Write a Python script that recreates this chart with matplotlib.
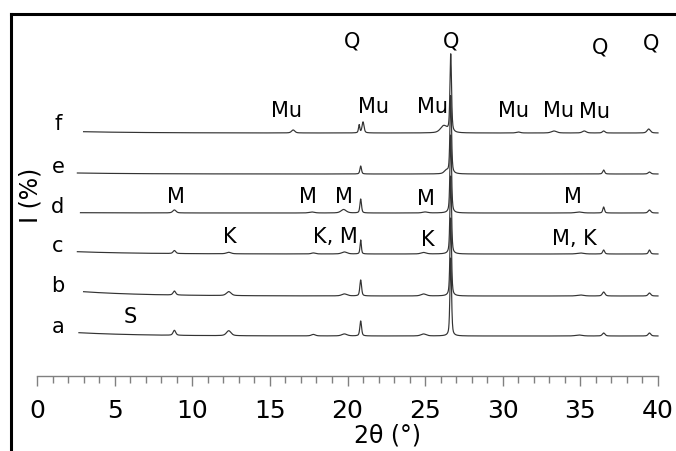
import numpy as np
import matplotlib.pyplot as plt

# diffraction patterns, one trace per sample (offset upward a -> f)
samples = ["a", "b", "c", "d", "e", "f"]
start_2theta = [2.7, 3.0, 2.6, 2.8, 2.6, 3.0]
baseline = [115, 155, 197, 238, 277, 318]      # flat background level
low_angle_rise = [3.3, 4.3, 2.3, 0.3, 1.0, 1.3]  # extra background at the start

# reflections per sample: (2theta, height, fwhm)
peaks = {
    "a": [(8.85, 5, 0.2), (12.35, 5, 0.35), (17.8, 1.5, 0.3), (19.8, 2, 0.4),
          (20.85, 15, 0.13), (24.9, 2, 0.4), (26.65, 78, 0.12), (34.9, 1, 0.5),
          (36.5, 3, 0.2), (39.45, 3, 0.2)],
    "b": [(8.85, 4, 0.2), (12.35, 4, 0.35), (19.8, 2, 0.4), (20.85, 16, 0.13),
          (24.9, 2, 0.4), (26.65, 78, 0.12), (35.0, 1, 0.5), (36.5, 4, 0.2),
          (39.45, 3, 0.2)],
    "c": [(8.85, 3, 0.2), (12.35, 1.5, 0.35), (17.8, 1, 0.3), (19.8, 2, 0.4),
          (20.85, 14, 0.1), (24.9, 1.5, 0.4), (26.65, 78, 0.12), (35.0, 1, 0.5),
          (36.5, 4, 0.15), (39.45, 4, 0.15)],
    "d": [(8.85, 3, 0.25), (17.7, 1, 0.4), (19.75, 3.5, 0.4), (20.85, 14, 0.12),
          (25.0, 1, 0.4), (26.65, 78, 0.12), (34.9, 1, 0.5), (36.5, 6, 0.13),
          (39.45, 3, 0.2)],
    "e": [(20.85, 8, 0.12), (26.35, 3, 0.3), (26.65, 78, 0.12), (36.5, 4, 0.15),
          (39.45, 2, 0.2)],
    "f": [(16.5, 3, 0.25), (20.75, 8, 0.1), (21.0, 11, 0.15), (26.2, 7, 0.5),
          (26.65, 78, 0.12), (31.0, 1, 0.3), (33.3, 2, 0.4), (35.25, 2, 0.3),
          (36.5, 2, 0.2), (39.4, 4, 0.25)],
}

# phase labels: (text, 2theta, height)
phase_labels = [
    ("Q", 20.3, 403), ("Q", 26.67, 403), ("Q", 36.3, 398), ("Q", 39.55, 402),
    ("Mu", 16.1, 334), ("Mu", 21.65, 338), ("Mu", 25.5, 338), ("Mu", 30.7, 334),
    ("Mu", 33.6, 334), ("Mu", 35.9, 333),
    ("M", 8.95, 248), ("M", 17.45, 248), ("M", 19.75, 248), ("M", 25.05, 246),
    ("M", 34.55, 248),
    ("K", 12.4, 208), ("K, M", 19.2, 208), ("K", 25.2, 205), ("M, K", 34.6, 206),
    ("S", 6.0, 128),
]
sample_label_y = [118, 159, 199, 238, 278, 321]


def pattern(x, refl):
    y = np.zeros_like(x)
    for pos, h, w in refl:
        g = np.exp(-4 * np.log(2) * ((x - pos) / w) ** 2)
        l = 1 / (1 + 4 * ((x - pos) / w) ** 2)
        y += h * (0.5 * g + 0.5 * l)
    return y


fig = plt.figure(figsize=(6.76, 4.51), dpi=100)
ax = fig.add_axes([11 / 676, 0, 665 / 676, 437 / 451])

for i, s in enumerate(samples):
    x = np.arange(start_2theta[i], 40.0001, 0.01)
    bg = baseline[i] + low_angle_rise[i] * np.exp(-(x - start_2theta[i]) / 4)
    ax.plot(x, bg + pattern(x, peaks[s]), color="#333333", lw=0.85)
    ax.text(1.35, sample_label_y[i], s, fontsize=15, ha="center", va="baseline")

for txt, xpos, ypos in phase_labels:
    ax.text(xpos, ypos, txt, fontsize=15, ha="center", va="baseline")

ax.set_xlim(-26 / 15.525, 639 / 15.525)
ax.set_ylim(0, 437)

# frame on top and left only, free-standing 2theta axis
for side in ["top", "left"]:
    ax.spines[side].set_linewidth(2.2)
    ax.spines[side].set_color("black")
ax.spines["right"].set_visible(False)
ax.spines["bottom"].set_position(("data", 75))
ax.spines["bottom"].set_bounds(0, 40)
ax.spines["bottom"].set_color("#808080")
ax.spines["bottom"].set_linewidth(1)

ax.set_xticks(np.arange(0, 41, 5))
ax.set_xticks(np.arange(0, 41, 1), minor=True)
ax.set_yticks([])
ax.tick_params(axis="x", which="major", length=7.2, width=1, color="#808080",
               labelsize=18, pad=9.5)
ax.tick_params(axis="x", which="minor", length=5, width=1, color="#808080")

ax.text(-0.45, 256, "I (%)", fontsize=17, rotation=90, ha="center", va="center")
ax.text(22.6, 9, "2θ (°)", fontsize=17, ha="center", va="baseline")

fig.savefig("out.png", dpi=100)
